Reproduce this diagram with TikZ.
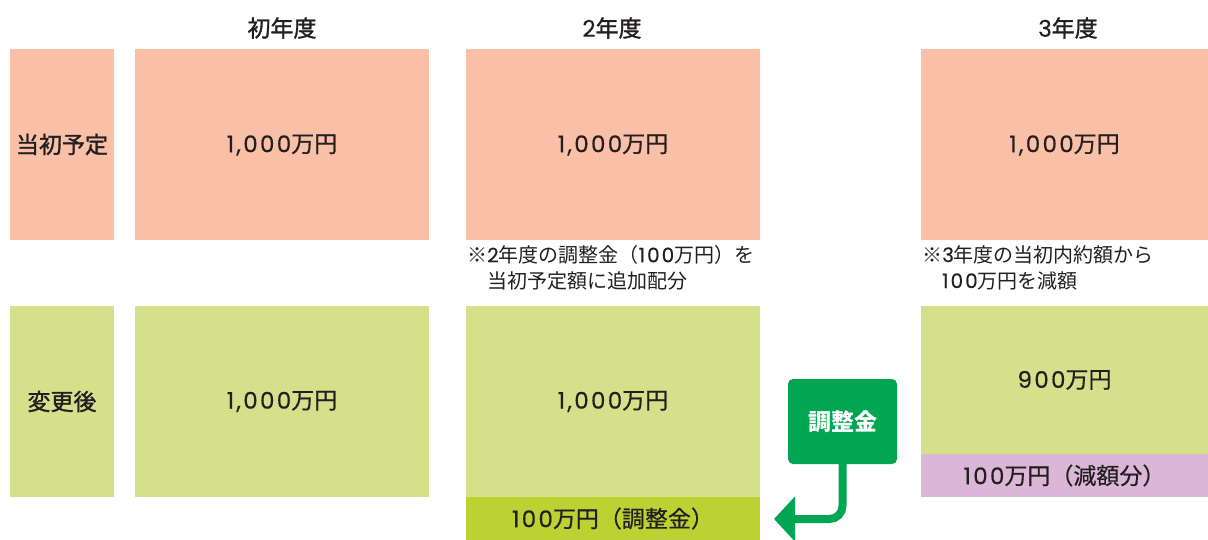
\documentclass[tikz,border=0pt]{standalone}
\usepackage{fontspec}
\setmainfont{Noto Sans CJK JP}
\newfontfamily\medf{Noto Sans CJK JP}[FakeBold=0.5]
\newfontfamily\semif{Noto Sans CJK JP}[FakeBold=1.3]
\newfontfamily\numf{Poppins}[FakeBold=0.3,LetterSpace=10]
\newcommand{\dg}[1]{{\numf #1}}
\usetikzlibrary{arrows.meta}
\definecolor{salmon}{RGB}{249,191,167}
\definecolor{lgreen}{RGB}{212,225,138}
\definecolor{olive}{RGB}{188,210,50}
\definecolor{lpink}{RGB}{220,182,214}
\definecolor{dgreen}{RGB}{0,166,81}
\definecolor{ink}{RGB}{35,31,32}
\tikzset{
  box/.style={inner sep=0pt, outer sep=0pt, text=ink, font=\fontsize{23}{27}\selectfont\medf},
  head/.style={text=ink, inner sep=0pt, font=\fontsize{23}{27}\selectfont\semif},
  lab/.style={box, font=\fontsize{23}{27}\selectfont\semif},
  note/.style={text=ink, inner sep=0pt, anchor=north west, align=left, font=\fontsize{20}{26}\selectfont},
  adjbox/.style={fill=dgreen, rounded corners=5pt, inner sep=0pt, text=white, font=\fontsize{23}{27}\selectfont\bfseries},
  flow/.style={draw=dgreen, line width=8pt, rounded corners=13pt, -{Triangle[length=21pt,width=44pt]}}
}
\begin{document}
\begin{tikzpicture}[x=1pt,y=-1pt]
\useasboundingbox (0,0) rectangle (1208,540);
% headers
\node[head] (h1) at (282,28) {初年度};
\node[head] (h2) at (612,28) {\dg{2}年度};
\node[head] (h3) at (1068,28) {\dg{3}年度};
% row labels
\node[lab, fill=salmon, minimum width=104pt, minimum height=191pt] (r1) at (62,144.5) {当初予定};
\node[lab, fill=lgreen, minimum width=104pt, minimum height=191pt] (r2) at (62,401.5) {変更後};
% top row
\node[box, fill=salmon, minimum width=294pt, minimum height=191pt] (a1) at (282,145) {\dg{1,000}万円};
\node[box, fill=salmon, minimum width=294pt, minimum height=191pt] (a2) at (613,145) {\dg{1,000}万円};
\node[box, fill=salmon, minimum width=287pt, minimum height=191pt] (a3) at (1064.5,145) {\dg{1,000}万円};
% notes
\node[note] (n2) at (467,245) {※\dg{2}年度の調整金（\dg{100}万円）を\\　当初予定額に追加配分};
\node[note] (n3) at (922,245) {※\dg{3}年度の当初内約額から\\　\dg{100}万円を減額};
% bottom row
\node[box, fill=lgreen, minimum width=294pt, minimum height=191pt] (b1) at (282,401.5) {\dg{1,000}万円};
\node[box, fill=lgreen, minimum width=294pt, minimum height=191pt] (b2) at (613,401.5) {\dg{1,000}万円};
\node[box, fill=olive, minimum width=294pt, minimum height=43pt] (b2x) at (613,518.5) {\dg{100}万円（調整金）};
\node[box, fill=lgreen, minimum width=287pt, minimum height=148pt] (b3) at (1064.5,380) {\dg{900}万円};
\node[box, fill=lpink, minimum width=287pt, minimum height=43pt] (b3x) at (1064.5,475.5) {\dg{100}万円（減額分）};
% adjustment
\node[adjbox, minimum width=109pt, minimum height=85pt] (adj) at (842.5,421.5) {調整金};
\coordinate (tip) at (774,519);
\draw[flow] (adj.south) |- (tip);
\end{tikzpicture}
\end{document}
